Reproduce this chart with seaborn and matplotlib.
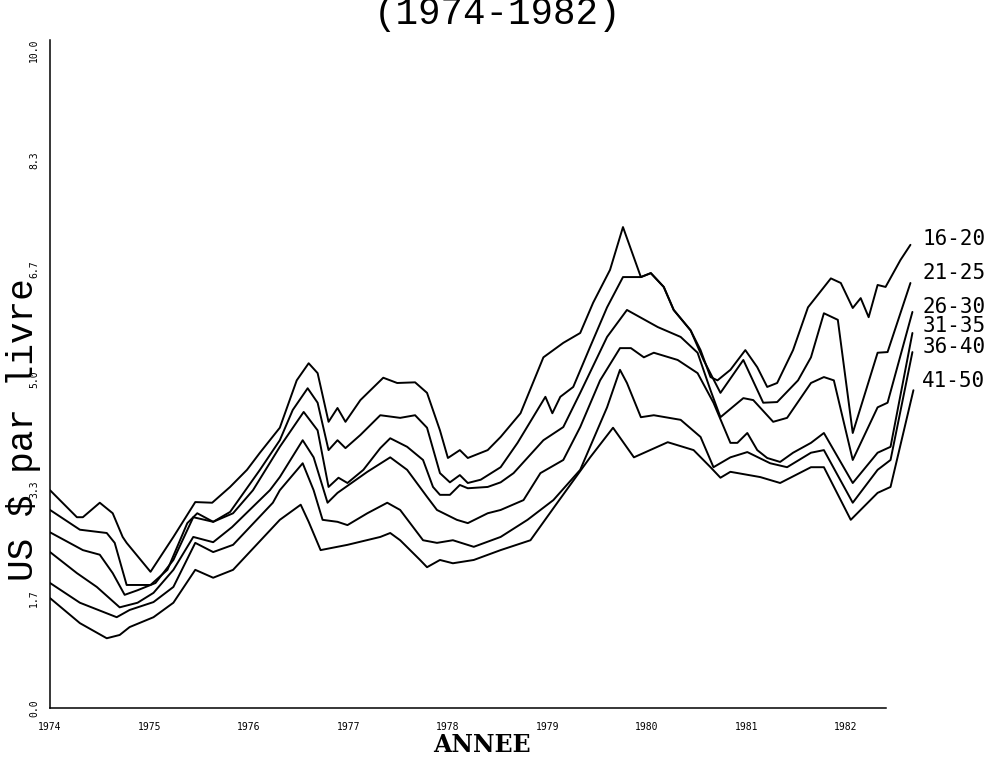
import pandas as pd
import matplotlib
matplotlib.use("Agg")
import matplotlib.pyplot as plt
import seaborn as sns

# prix du cafe par classe de calibre, US $ par livre
groupes = ["16-20", "21-25", "26-30", "31-35", "36-40", "41-50"]

t_16_20 = [1974.00, 1974.27, 1974.33, 1974.50, 1974.63, 1974.73, 1974.77, 1975.01, 1975.24, 1975.46,
           1975.63, 1975.81, 1975.98, 1976.11, 1976.31, 1976.48, 1976.60, 1976.69, 1976.80, 1976.89,
           1976.97, 1977.12, 1977.35, 1977.49, 1977.67, 1977.79, 1977.92, 1978.00, 1978.12, 1978.20,
           1978.40, 1978.53, 1978.73, 1978.96, 1979.16, 1979.33, 1979.46, 1979.63, 1979.76, 1979.94,
           1980.04, 1980.17, 1980.27, 1980.44, 1980.54, 1980.64, 1980.71, 1980.84, 1980.99, 1981.11,
           1981.21, 1981.31, 1981.47, 1981.62, 1981.85, 1981.95, 1982.07, 1982.15, 1982.23, 1982.32,
           1982.40, 1982.55, 1982.65]
p_16_20 = [3.31, 2.90, 2.90, 3.12, 2.96, 2.60, 2.51, 2.07, 2.60, 3.13,
           3.12, 3.36, 3.62, 3.88, 4.26, 4.98, 5.24, 5.09, 4.35, 4.56,
           4.35, 4.68, 5.02, 4.94, 4.95, 4.79, 4.22, 3.80, 3.92, 3.80,
           3.92, 4.12, 4.48, 5.33, 5.55, 5.70, 6.16, 6.66, 7.31, 6.55,
           6.61, 6.40, 6.05, 5.74, 5.44, 5.03, 4.98, 5.14, 5.44, 5.18,
           4.88, 4.94, 5.44, 6.09, 6.53, 6.46, 6.08, 6.23, 5.94, 6.43,
           6.40, 6.81, 7.04]

t_21_25 = [1974.00, 1974.30, 1974.57, 1974.65, 1974.77, 1975.01, 1975.18, 1975.38, 1975.48, 1975.64,
           1975.81, 1976.11, 1976.31, 1976.44, 1976.59, 1976.69, 1976.80, 1976.89, 1976.97, 1977.12,
           1977.32, 1977.52, 1977.67, 1977.79, 1977.92, 1978.02, 1978.12, 1978.20, 1978.33, 1978.53,
           1978.70, 1978.98, 1979.05, 1979.13, 1979.26, 1979.43, 1979.60, 1979.76, 1979.94, 1980.04,
           1980.17, 1980.27, 1980.44, 1980.57, 1980.74, 1980.97, 1981.17, 1981.31, 1981.52, 1981.65,
           1981.78, 1981.92, 1982.07, 1982.32, 1982.42, 1982.65]
p_21_25 = [3.01, 2.71, 2.66, 2.51, 1.87, 1.87, 2.10, 2.81, 2.96, 2.83,
           2.98, 3.62, 4.07, 4.53, 4.86, 4.64, 3.92, 4.07, 3.95, 4.15,
           4.45, 4.41, 4.45, 4.26, 3.57, 3.43, 3.54, 3.42, 3.47, 3.66,
           4.03, 4.73, 4.48, 4.73, 4.88, 5.49, 6.09, 6.55, 6.55, 6.61,
           6.40, 6.05, 5.74, 5.29, 4.79, 5.29, 4.64, 4.65, 4.98, 5.33,
           6.00, 5.90, 4.18, 5.40, 5.41, 6.46]

t_26_30 = [1974.00, 1974.33, 1974.50, 1974.63, 1974.75, 1974.88, 1975.06, 1975.24, 1975.44, 1975.64,
           1975.84, 1976.04, 1976.31, 1976.55, 1976.69, 1976.80, 1976.90, 1976.99, 1977.15, 1977.32,
           1977.42, 1977.59, 1977.75, 1977.85, 1977.92, 1978.02, 1978.12, 1978.20, 1978.40, 1978.53,
           1978.66, 1978.96, 1979.16, 1979.33, 1979.60, 1979.80, 1980.11, 1980.34, 1980.51, 1980.64,
           1980.74, 1980.97, 1981.07, 1981.27, 1981.41, 1981.65, 1981.78, 1981.88, 1982.07, 1982.32,
           1982.42, 1982.67]
p_26_30 = [2.67, 2.40, 2.33, 2.05, 1.72, 1.79, 1.90, 2.25, 2.90, 2.83,
           2.96, 3.31, 3.97, 4.50, 4.22, 3.36, 3.50, 3.42, 3.62, 3.95,
           4.10, 3.97, 3.77, 3.36, 3.24, 3.24, 3.39, 3.34, 3.36, 3.43,
           3.57, 4.07, 4.27, 4.79, 5.64, 6.05, 5.79, 5.64, 5.40, 4.83,
           4.42, 4.71, 4.68, 4.35, 4.41, 4.94, 5.03, 4.98, 3.77, 4.57,
           4.64, 6.02]

t_31_35 = [1974.00, 1974.27, 1974.47, 1974.70, 1974.88, 1975.04, 1975.24, 1975.44, 1975.64, 1975.83,
           1976.21, 1976.31, 1976.54, 1976.65, 1976.79, 1976.89, 1977.19, 1977.42, 1977.59, 1977.79,
           1977.89, 1978.09, 1978.20, 1978.40, 1978.53, 1978.76, 1978.93, 1979.16, 1979.33, 1979.53,
           1979.73, 1979.84, 1979.97, 1980.07, 1980.31, 1980.51, 1980.67, 1980.84, 1980.91, 1981.01,
           1981.11, 1981.21, 1981.34, 1981.47, 1981.65, 1981.78, 1982.07, 1982.32, 1982.45, 1982.67]
p_31_35 = [2.37, 2.05, 1.84, 1.53, 1.60, 1.75, 2.10, 2.60, 2.52, 2.75,
           3.31, 3.51, 4.07, 3.81, 3.12, 3.27, 3.59, 3.81, 3.62, 3.21,
           3.01, 2.86, 2.81, 2.96, 3.01, 3.16, 3.57, 3.77, 4.27, 4.98,
           5.47, 5.47, 5.33, 5.40, 5.29, 5.09, 4.64, 4.03, 4.03, 4.18,
           3.92, 3.80, 3.74, 3.88, 4.03, 4.18, 3.42, 3.88, 3.97, 5.70]

t_36_40 = [1974.00, 1974.30, 1974.67, 1974.80, 1975.04, 1975.24, 1975.46, 1975.64, 1975.84, 1976.24,
           1976.31, 1976.54, 1976.65, 1976.74, 1976.89, 1976.99, 1977.19, 1977.39, 1977.52, 1977.65,
           1977.75, 1977.89, 1978.05, 1978.26, 1978.53, 1978.80, 1979.06, 1979.33, 1979.60, 1979.73,
           1979.80, 1979.94, 1980.07, 1980.34, 1980.54, 1980.67, 1980.84, 1981.01, 1981.24, 1981.41,
           1981.65, 1981.78, 1982.07, 1982.32, 1982.45, 1982.67]
p_36_40 = [1.90, 1.60, 1.38, 1.49, 1.61, 1.84, 2.51, 2.37, 2.48, 3.12,
           3.31, 3.72, 3.31, 2.86, 2.83, 2.78, 2.96, 3.12, 3.01, 2.75,
           2.55, 2.51, 2.55, 2.45, 2.60, 2.86, 3.16, 3.62, 4.57, 5.14,
           4.94, 4.42, 4.45, 4.38, 4.12, 3.66, 3.81, 3.89, 3.72, 3.66,
           3.88, 3.92, 3.12, 3.62, 3.77, 5.41]

t_41_50 = [1974.00, 1974.30, 1974.57, 1974.70, 1974.80, 1975.04, 1975.24, 1975.46, 1975.64, 1975.84,
           1976.31, 1976.52, 1976.60, 1976.72, 1976.99, 1977.32, 1977.42, 1977.52, 1977.72, 1977.79,
           1977.92, 1978.05, 1978.26, 1978.53, 1978.83, 1979.10, 1979.43, 1979.66, 1979.87, 1980.21,
           1980.47, 1980.64, 1980.74, 1980.84, 1981.14, 1981.34, 1981.65, 1981.78, 1982.05, 1982.32,
           1982.45, 1982.68]
p_41_50 = [1.67, 1.29, 1.06, 1.11, 1.23, 1.38, 1.60, 2.10, 1.98, 2.10,
           2.86, 3.09, 2.83, 2.40, 2.48, 2.60, 2.66, 2.55, 2.25, 2.14,
           2.25, 2.20, 2.25, 2.40, 2.55, 3.12, 3.81, 4.26, 3.81, 4.04,
           3.92, 3.66, 3.50, 3.59, 3.51, 3.42, 3.66, 3.66, 2.86, 3.27,
           3.36, 4.83]

# hauteur des etiquettes a droite (US $)
label_y = [7.13, 6.61, 6.09, 5.81, 5.49, 4.97]

annees = list(range(1974, 1983))
y_ticks = [0.0, 1.67, 3.33, 5.0, 6.67, 8.33, 10.0]
y_labels = ["0.0", "1.7", "3.3", "5.0", "6.7", "8.3", "10.0"]

series = [(t_16_20, p_16_20), (t_21_25, p_21_25), (t_26_30, p_26_30),
          (t_31_35, p_31_35), (t_36_40, p_36_40), (t_41_50, p_41_50)]
rows = []
for g, (t, p) in zip(groupes, series):
    for a, v in zip(t, p):
        rows.append({"groupe": g, "annee": a, "prix": v})
df = pd.DataFrame(rows)

sns.set_style("white")
plt.rcParams["text.color"] = "black"
plt.rcParams["xtick.color"] = "black"
plt.rcParams["ytick.color"] = "black"
mono = ["DejaVu Sans Mono"]

fig = plt.figure(figsize=(10.05, 7.72), dpi=100)
ax = fig.add_axes([0.0498, 0.0829, 0.866, 0.865])

sns.lineplot(data=df, x="annee", y="prix", units="groupe", estimator=None,
             color="black", linewidth=1.4, sort=False, ax=ax)

ax.set_xlim(1974, 1982.75)
ax.set_ylim(0, 10.15)
ax.set_xticks(annees)
ax.set_xticklabels([str(a) for a in annees], family=mono, fontsize=7)
ax.set_yticks(y_ticks)
ax.set_yticklabels(y_labels, family=mono, fontsize=7, rotation=90, va="center")
ax.tick_params(axis="both", direction="inout", length=4, width=1, color="black")
ax.tick_params(axis="x", pad=8)
ax.tick_params(axis="y", pad=6)

for s in ["top", "right"]:
    ax.spines[s].set_visible(False)
ax.spines["left"].set_bounds(0, 10.15)
ax.spines["bottom"].set_bounds(1974, 1982.4)
for s in ["left", "bottom"]:
    ax.spines[s].set_color("black")
    ax.spines[s].set_linewidth(1.1)

ax.set_xlabel("")
ax.set_ylabel("")

for g, yv in zip(groupes, label_y):
    ax.text(1982.77, yv, g, family=mono, fontsize=15, va="center", ha="left", clip_on=False)

fig.text(0.495, 1 - 24 / 772, "(1974-1982)", family=["Liberation Mono"], fontsize=27,
         ha="center", va="baseline")
fig.text(24 / 1005, 1 - 430 / 772, "US $ par livre", family=["Liberation Mono"], fontsize=26,
         rotation=90, ha="center", va="center")
fig.text(482 / 1005, 1 - 745 / 772, "ANNEE", family=["DejaVu Serif"], fontweight="bold",
         fontsize=17, ha="center", va="center")

fig.savefig("out.png", dpi=100, facecolor="white")
